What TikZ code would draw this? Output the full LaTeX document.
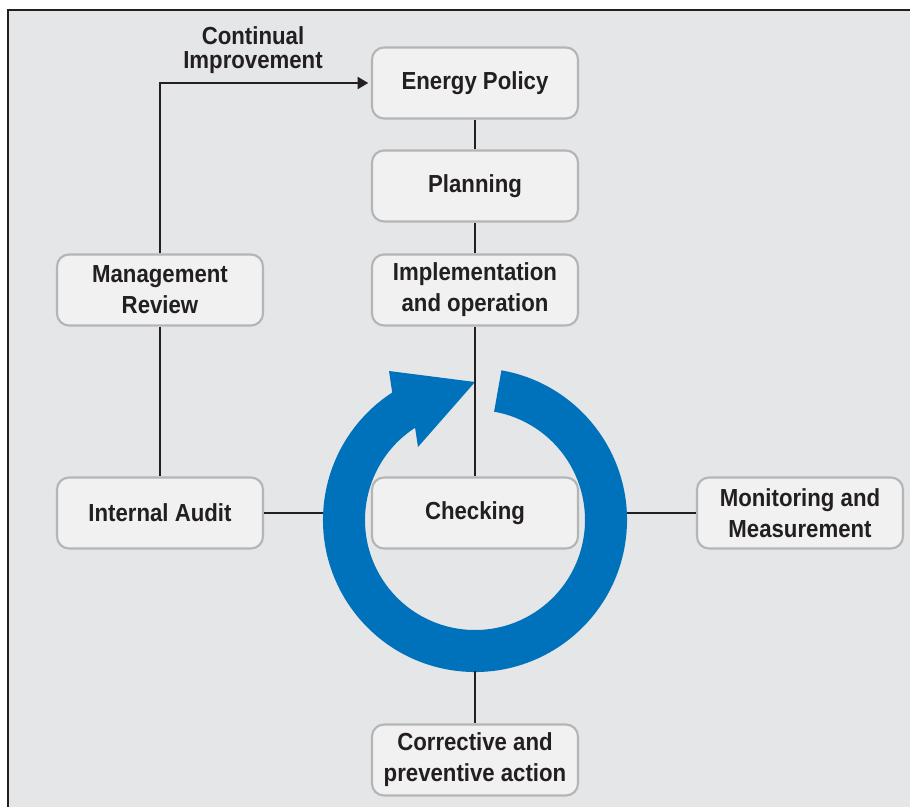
\documentclass[tikz,border=0pt]{standalone}
\usepackage{fontspec}
\newfontfamily\labelfont{Liberation Sans}[FakeStretch=0.9]
\usetikzlibrary{arrows.meta,calc}

\definecolor{panelgray}{HTML}{E5E6E8}
\definecolor{boxfill}{HTML}{F1F1F1}
\definecolor{boxedge}{HTML}{B4B5B7}
\definecolor{inkdark}{HTML}{231F20}
\definecolor{cycleblue}{HTML}{0072BC}

\tikzset{
  stagebox/.style={draw=boxedge, line width=1.6pt, fill=boxfill,
    rounded corners=9pt, minimum width=154.5pt, minimum height=53.25pt,
    align=center, text=inkdark, inner sep=2pt,
    font=\labelfont\bfseries\fontsize{18.5}{23.25}\selectfont},
  link/.style={draw=inkdark, line width=1.6pt},
  caption/.style={text=inkdark, align=center, inner sep=0pt,
    font=\labelfont\bfseries\fontsize{18.5}{17.5}\selectfont}
}

\begin{document}
\begin{tikzpicture}[x=0.75pt, y=0.75pt]
  % page and framed panel
  \useasboundingbox (0,0) rectangle (910,-807);
  \fill[white] (0,0) rectangle (910,-807);
  \fill[panelgray] (8,-10) rectangle (910,-807);
  \draw[inkdark, line width=2pt] (8,-807) -- (8,-10) -- (910,-10);

  % PDCA cycle ring with its arrowhead
  \fill[cycleblue]
    ([shift={(475,-520)}]80:152) arc[start angle=80, end angle=-237, radius=152]
    -- (389,-371) -- (475,-382) -- (418,-447)
    -- ([shift={(475,-520)}]-237:110) arc[start angle=-237, end angle=80, radius=110]
    -- cycle;

  % stages
  \node[stagebox] (policy)  at (475,-83)  {Energy Policy};
  \node[stagebox] (plan)    at (475,-186) {Planning};
  \node[stagebox] (impl)    at (475,-290) {Implementation\\and operation};
  \node[stagebox] (review)  at (160,-290) {Management\\Review};
  \node[stagebox] (audit)   at (160,-513) {Internal Audit};
  \node[stagebox] (check)   at (475,-513) {Checking};
  \node[stagebox] (monitor) at (800,-513) {Monitoring and\\Measurement};
  \node[stagebox] (correct) at (475,-760) {Corrective and\\preventive action};

  % points where the side links meet the outer rim of the cycle ring
  \coordinate (ringW) at (323,-513);
  \coordinate (ringE) at (627,-513);
  \coordinate (ringS) at (475,-671);

  % connectors
  \draw[link] (policy) -- (plan);
  \draw[link] (plan) -- (impl);
  \draw[link] (impl) -- (check);
  \draw[link] (review) -- (audit);
  \draw[link] (audit.east) -- (ringW);
  \draw[link] (ringE) -- (monitor.west);
  \draw[link] (ringS) -- (correct.north);
  \draw[link, -{Triangle[length=8pt, width=9pt]}, shorten >=2pt]
    (review.north) |- (policy.west);
  \node[caption] (improve) at (253,-50) {Continual\\Improvement};
\end{tikzpicture}
\end{document}
